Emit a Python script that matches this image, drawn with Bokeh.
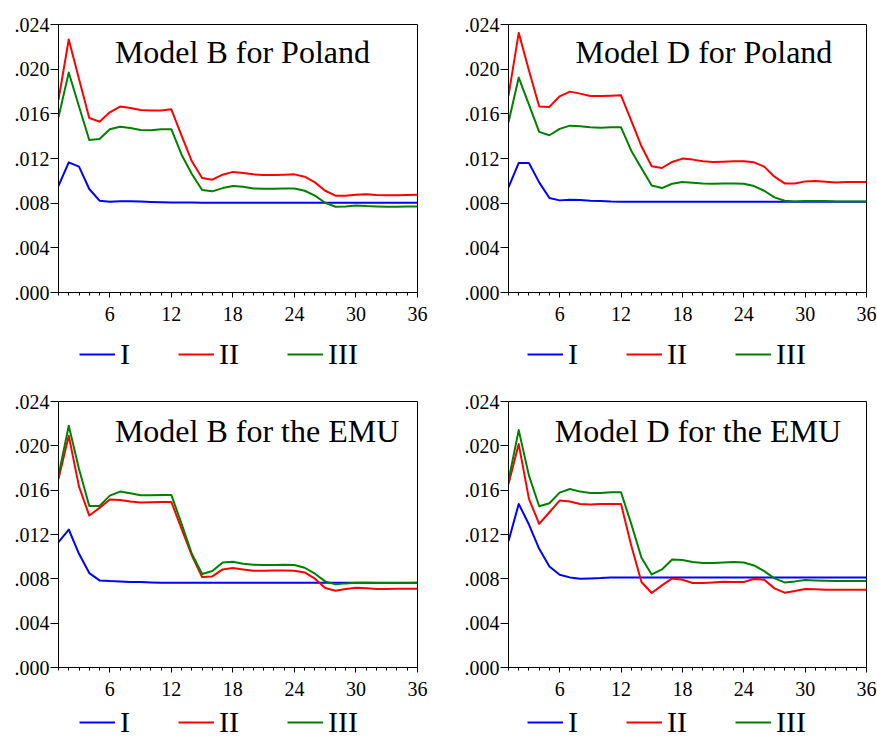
from bokeh.plotting import figure
from bokeh.layouts import column, row
from bokeh.models import (Range1d, FixedTicker, CustomJSTickFormatter, Legend,
                          LegendItem, Label)
from bokeh.embed import file_html
from bokeh.resources import INLINE

HORIZON = [1, 2, 3, 4, 5, 6, 7, 8, 9, 10, 11, 12, 13, 14, 15, 16, 17, 18,
           19, 20, 21, 22, 23, 24, 25, 26, 27, 28, 29, 30, 31, 32, 33, 34, 35, 36]
X_TICKS = [6, 12, 18, 24, 30, 36]
Y_TICKS = [0.0, 0.004, 0.008, 0.012, 0.016, 0.020, 0.024]
SERIES_NAMES = ["I", "II", "III"]

TITLES = ["Model B for Poland", "Model D for Poland",
          "Model B for the EMU", "Model D for the EMU"]

B_PL_I = [0.00956, 0.01166, 0.01127, 0.00927, 0.00822, 0.00813, 0.00818, 0.00817, 0.00814,
          0.00811, 0.00809, 0.00807, 0.00806, 0.00805, 0.00804, 0.00804, 0.00803, 0.00803,
          0.00803, 0.00803, 0.00803, 0.00803, 0.00803, 0.00803, 0.00803, 0.00803, 0.00803,
          0.00803, 0.00803, 0.00803, 0.00803, 0.00803, 0.00803, 0.00803, 0.00803, 0.00803]
B_PL_II = [0.01725, 0.02266, 0.01913, 0.01563, 0.0153, 0.01614, 0.01665, 0.01653, 0.01635,
           0.0163, 0.0163, 0.0164, 0.01405, 0.01175, 0.01025, 0.0101, 0.01055, 0.0108,
           0.0107, 0.01058, 0.01052, 0.01052, 0.01055, 0.01058, 0.01037, 0.00986, 0.00911,
           0.00867, 0.00867, 0.00876, 0.00879, 0.00873, 0.0087, 0.0087, 0.00873, 0.00876]
B_PL_III = [0.0157, 0.0197, 0.01665, 0.01366, 0.01375, 0.01462, 0.01485, 0.01474, 0.01456,
            0.01453, 0.01462, 0.01462, 0.01234, 0.01061, 0.00918, 0.00906, 0.00935, 0.00953,
            0.00947, 0.00932, 0.0093, 0.0093, 0.00932, 0.00932, 0.00911, 0.00867, 0.00804,
            0.00768, 0.00771, 0.0078, 0.00774, 0.00771, 0.00768, 0.00768, 0.00771, 0.00771]

D_PL_I = [0.00942, 0.0116, 0.0116, 0.00986, 0.00846, 0.00825, 0.00831, 0.00828, 0.00822,
          0.0082, 0.00815, 0.00813, 0.00813, 0.00813, 0.00813, 0.00813, 0.00813, 0.00813,
          0.00813, 0.00813, 0.00813, 0.00813, 0.00813, 0.00813, 0.00813, 0.00813, 0.00813,
          0.00813, 0.00813, 0.00813, 0.00813, 0.00813, 0.00813, 0.00813, 0.00813, 0.00813]
D_PL_II = [0.01763, 0.02325, 0.01988, 0.01665, 0.01662, 0.01757, 0.01799, 0.01781, 0.0176,
           0.0176, 0.01763, 0.01766, 0.01539, 0.01309, 0.0113, 0.01115, 0.01169, 0.01199,
           0.0119, 0.01175, 0.01169, 0.01172, 0.01175, 0.01175, 0.01166, 0.01127, 0.01037,
           0.00977, 0.00977, 0.00995, 0.00998, 0.00992, 0.00986, 0.00989, 0.00989, 0.00989]
D_PL_III = [0.01524, 0.01925, 0.01683, 0.01438, 0.01408, 0.01465, 0.01494, 0.01488, 0.01479,
            0.01476, 0.01479, 0.01479, 0.0127, 0.01112, 0.00959, 0.00935, 0.00974, 0.00989,
            0.00983, 0.00977, 0.00974, 0.00977, 0.00977, 0.00974, 0.00953, 0.00911, 0.00852,
            0.00822, 0.00816, 0.00819, 0.00819, 0.00819, 0.00816, 0.00816, 0.00816, 0.00816]

B_EMU_I = [0.01131, 0.01245, 0.01026, 0.00852, 0.00786, 0.0078, 0.00777, 0.00771, 0.00771,
           0.00768, 0.00765, 0.00765, 0.00765, 0.00765, 0.00765, 0.00765, 0.00765, 0.00765,
           0.00765, 0.00765, 0.00765, 0.00765, 0.00765, 0.00765, 0.00765, 0.00765, 0.00765,
           0.00765, 0.00765, 0.00765, 0.00765, 0.00765, 0.00765, 0.00765, 0.00765, 0.00765]
B_EMU_II = [0.01701, 0.02091, 0.01632, 0.01371, 0.0144, 0.01515, 0.01512, 0.01497, 0.01488,
            0.01491, 0.01494, 0.01494, 0.01251, 0.01011, 0.00816, 0.00822, 0.00885, 0.00897,
            0.00885, 0.00873, 0.00873, 0.00876, 0.00876, 0.00873, 0.00858, 0.00801, 0.00717,
            0.00693, 0.00708, 0.0072, 0.00714, 0.00708, 0.00708, 0.00711, 0.00711, 0.00711]
B_EMU_III = [0.01731, 0.02181, 0.01791, 0.01458, 0.01458, 0.01551, 0.01587, 0.01572, 0.01554,
             0.01554, 0.01557, 0.01557, 0.01296, 0.01026, 0.00843, 0.0087, 0.00948, 0.00954,
             0.00936, 0.00927, 0.00924, 0.00924, 0.00927, 0.00924, 0.009, 0.00846, 0.00777,
             0.0075, 0.00759, 0.00765, 0.00765, 0.00762, 0.00762, 0.00762, 0.00762, 0.00765]

D_EMU_I = [0.0114, 0.01476, 0.0129, 0.01071, 0.00912, 0.00837, 0.00813, 0.00801, 0.00804,
           0.00807, 0.00813, 0.00813, 0.00813, 0.00813, 0.00813, 0.00813, 0.00813, 0.00813,
           0.00813, 0.00813, 0.00813, 0.00813, 0.00813, 0.00813, 0.00813, 0.00813, 0.00813,
           0.00813, 0.00813, 0.00813, 0.00813, 0.00813, 0.00813, 0.00813, 0.00813, 0.00813]
D_EMU_II = [0.01656, 0.02016, 0.01521, 0.01296, 0.01401, 0.01506, 0.01497, 0.01476, 0.0147,
            0.01476, 0.01476, 0.01476, 0.01101, 0.00771, 0.00672, 0.00741, 0.00804, 0.00792,
            0.00762, 0.00762, 0.00768, 0.00774, 0.00771, 0.00771, 0.00798, 0.00792, 0.00714,
            0.00675, 0.0069, 0.00708, 0.00705, 0.00702, 0.00702, 0.00702, 0.00702, 0.00702]
D_EMU_III = [0.01686, 0.02142, 0.01731, 0.01455, 0.01482, 0.01578, 0.01611, 0.01587, 0.01575,
             0.01575, 0.01581, 0.01581, 0.01296, 0.0099, 0.0084, 0.00885, 0.00975, 0.00969,
             0.00951, 0.00942, 0.00942, 0.00948, 0.00951, 0.00948, 0.00921, 0.0087, 0.00804,
             0.00768, 0.00777, 0.00789, 0.00786, 0.00783, 0.0078, 0.0078, 0.0078, 0.0078]

COLORS = ["#0000ff", "#ff0000", "#008000"]
FONT = "Liberation Serif"


def make_panel(title, series, width, height, left, right, top, bottom,
               title_x, title_y):
    p = figure(width=width, height=height, output_backend="svg", toolbar_location=None,
               x_range=Range1d(1, 36), y_range=Range1d(0, 0.024),
               min_border_left=left, min_border_right=right,
               min_border_top=top, min_border_bottom=bottom,
               background_fill_color="white", border_fill_color="white")
    p.outline_line_color = "black"
    p.outline_line_width = 1
    p.outline_line_alpha = 1
    p.xgrid.visible = False
    p.ygrid.visible = False

    p.xaxis.ticker = FixedTicker(ticks=X_TICKS, minor_ticks=HORIZON)
    p.yaxis.ticker = FixedTicker(ticks=Y_TICKS, minor_ticks=[])
    p.yaxis.formatter = CustomJSTickFormatter(
        code="return tick.toFixed(3).replace(/^0/, '');")
    for ax in (p.xaxis, p.yaxis):
        ax.axis_line_color = "black"
        ax.major_tick_line_color = "black"
        ax.minor_tick_line_color = "black"
        ax.major_label_text_font = FONT
        ax.major_label_text_font_size = "20px"
        ax.major_label_text_color = "black"
        ax.major_tick_in = 0
        ax.minor_tick_in = 0
    p.xaxis.major_tick_out = 5
    p.xaxis.minor_tick_out = 3
    p.xaxis.major_label_standoff = 9
    p.yaxis.major_tick_out = 8
    p.yaxis.minor_tick_line_color = None
    p.yaxis.major_label_standoff = 1

    for vals, col in zip(series, COLORS):
        p.line(HORIZON, vals, line_color=col, line_width=2, line_join="round")

    p.add_layout(Label(x=title_x, y=title_y, text=title, text_font=FONT,
                       text_font_size="32px", text_color="black",
                       text_align="left", text_baseline="middle"))
    return p


def make_legend(series, width, height, lx, ly):
    # Key strip under a panel: the series are drawn against a y range that lies
    # above their values, so only the legend samples are visible.
    q = figure(width=width, height=height, output_backend="svg", toolbar_location=None,
               x_axis_location=None, y_axis_location=None, min_border=0,
               x_range=Range1d(1, 36), y_range=Range1d(1, 2),
               background_fill_color="white", border_fill_color="white")
    q.outline_line_color = None
    q.xgrid.visible = False
    q.ygrid.visible = False
    items = []
    for name, vals, col in zip(SERIES_NAMES, series, COLORS):
        r = q.line(HORIZON, vals, line_color=col, line_width=2)
        items.append(LegendItem(label=name, renderers=[r]))
    legend = Legend(items=items, orientation="horizontal", location=(lx, ly),
                    spacing=48, label_standoff=5, glyph_width=36, glyph_height=36,
                    label_height=36, label_width=10, padding=0, margin=0,
                    border_line_alpha=0, background_fill_alpha=0,
                    label_text_font=FONT, label_text_font_size="30px",
                    label_text_color="black")
    q.add_layout(legend)
    return q


S1 = [B_PL_I, B_PL_II, B_PL_III]
S2 = [D_PL_I, D_PL_II, D_PL_III]
S3 = [B_EMU_I, B_EMU_II, B_EMU_III]
S4 = [D_EMU_I, D_EMU_II, D_EMU_III]

p1 = make_panel(TITLES[0], S1, 440, 330, 58, 23, 24, 38, 6.5, 0.0215)
p2 = make_panel(TITLES[1], S2, 437, 330, 68, 11, 24, 38, 7.55, 0.0215)
p3 = make_panel(TITLES[2], S3, 440, 320, 58, 23, 21, 33, 6.5, 0.02135)
p4 = make_panel(TITLES[3], S4, 437, 320, 68, 11, 21, 33, 5.53, 0.02135)

l1 = make_legend(S1, 440, 50, 21, 8)
l2 = make_legend(S2, 437, 50, 19, 8)
l3 = make_legend(S3, 440, 40, 21, 0)
l4 = make_legend(S4, 437, 40, 19, 0)

layout = column(row(column(p1, l1), column(p2, l2)),
                row(column(p3, l3), column(p4, l4)))
open("out.html", "w").write(file_html(layout, INLINE))
